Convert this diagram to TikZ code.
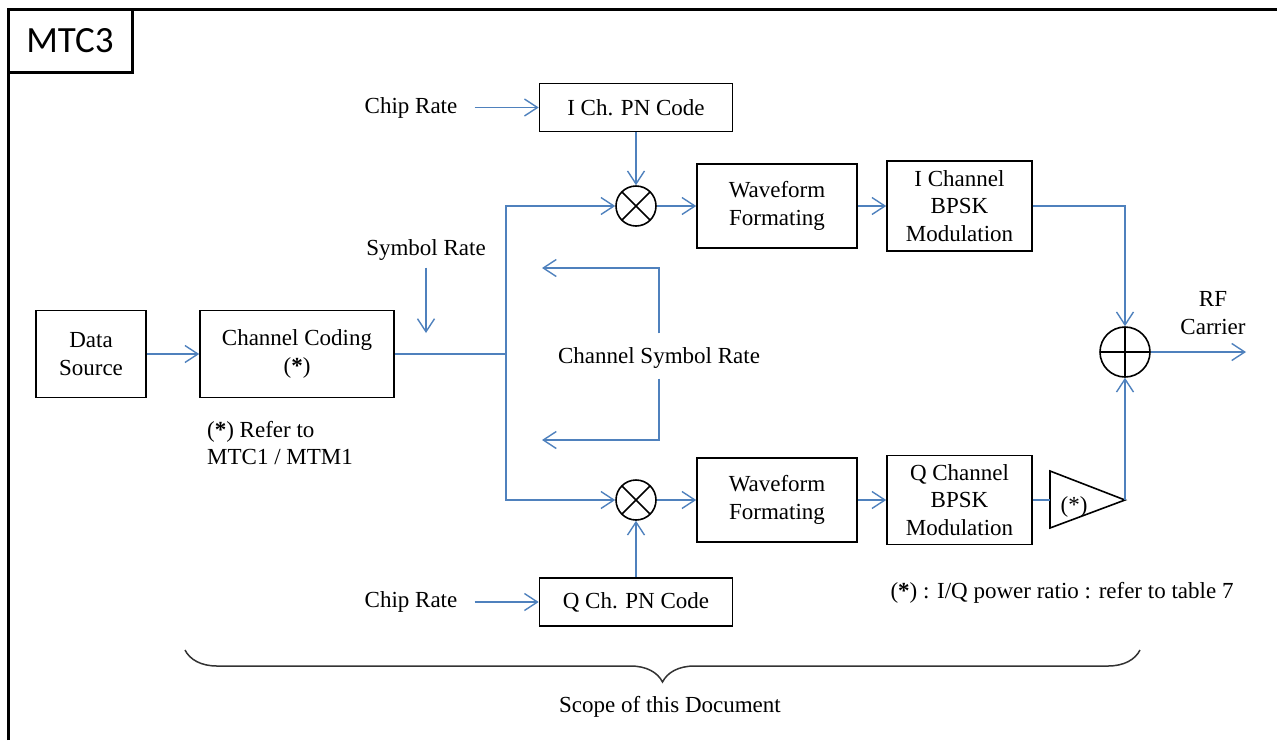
\documentclass[tikz,border=0pt]{standalone}
\usepackage{fontspec}
\setmainfont{Liberation Serif}
\newfontfamily\tagfont{Carlito}
\usetikzlibrary{arrows.meta}
\usetikzlibrary{decorations.pathreplacing}
\definecolor{sigblue}{RGB}{79,129,189}

\begin{document}
\begin{tikzpicture}[x=1pt, y=-1pt, every node/.style = {font=\fontsize{23}{27.5}\selectfont, inner sep=2pt},
					>={Straight Barb[length=13pt,width=17pt]}]

\tikzstyle{block}=[draw, line width=1.6pt, align=center, inner sep=0pt]
\tikzstyle{sig}=[draw=sigblue, line width=1.4pt]
\tikzstyle{mult}=[circle, draw, line width=1.6pt, minimum size=40pt, inner sep=0pt,
	path picture={\draw[line width=1.6pt] (path picture bounding box.north west) -- (path picture bounding box.south east)
		(path picture bounding box.north east) -- (path picture bounding box.south west);}]
\tikzstyle{adder}=[circle, draw, line width=1.6pt, minimum size=50pt, inner sep=0pt,
	path picture={\draw[line width=1.6pt] (path picture bounding box.north) -- (path picture bounding box.south)
		(path picture bounding box.west) -- (path picture bounding box.east);}]

\useasboundingbox (0,0) rectangle (1277,740);
\draw[line width=3pt] (8,740) -- (8,9) -- (1277,9);
\node[draw, line width=3pt, minimum width=124pt, minimum height=63pt, font=\fontsize{37}{40}\selectfont\tagfont] (tag) at (70,40.5) {MTC3};

\node[block, minimum width=110pt, minimum height=87pt] (src) at (91,354) {Data\\Source};
\node[block, minimum width=194pt, minimum height=87pt] (cc) at (297,354) {Channel Coding\\(\textbf{*})};
\node[anchor=west, align=left] (ccnote) at (205,443) {(\textbf{*}) Refer to\\MTC1 / MTM1};
\node (symrate) at (426,250) {Symbol Rate};
\coordinate (symtip) at (426,333);
\coordinate (split) at (506,354);

\node[block, minimum width=193pt, minimum height=48pt] (pnI) at (636,107.5) {I Ch. PN Code};
\node[block, minimum width=193pt, minimum height=48pt] (pnQ) at (636,602) {Q Ch. PN Code};
\node (chipI) at (411,107.5) {Chip Rate};
\node (chipQ) at (411,602) {Chip Rate};
\node[mult] (mulI) at (636,206) {};
\node[mult] (mulQ) at (636,500) {};

\node[block, minimum width=160pt, minimum height=84pt] (wfI) at (777,206) {Waveform\\Formating};
\node[block, minimum width=160pt, minimum height=84pt] (wfQ) at (777,500) {Waveform\\Formating};
\node[block, minimum width=145pt, minimum height=90pt] (modI) at (959.5,206) {I Channel\\BPSK\\Modulation};
\node[block, minimum width=145pt, minimum height=89pt] (modQ) at (959.5,500) {Q Channel\\BPSK\\Modulation};

\node (csr) at (659,358) {Channel Symbol Rate};
\coordinate (csrI) at (542,268);
\coordinate (csrQ) at (542,440);

\draw[line width=1.6pt] (1050,471) -- (1125,500) -- (1050,528) -- cycle;
\coordinate (ampin) at (1050,500);
\coordinate (ampout) at (1125,500);
\node (ampnote) at (1074,507) {(*)};
\node[adder] (sum) at (1125,352) {};
\coordinate (rfout) at (1246,352);
\node[align=center] (rf) at (1213,313) {RF\\Carrier};
\node (pwr) at (1062,593) {(\textbf{*}) : I/Q power ratio : refer to table 7};

\draw[sig,->] (src) -- (cc);
\draw[sig] (cc) -- (split);
\draw[sig,->,shorten <=5pt] (symrate) -- (symtip);
\draw[sig,->] (split) |- (mulI);
\draw[sig,->] (split) |- (mulQ);
\draw[sig,->,shorten <=15pt] (chipI) -- (pnI);
\draw[sig,->,shorten <=15pt] (chipQ) -- (pnQ);
\draw[sig,->] (pnI) -- (mulI);
\draw[sig,->] (pnQ) -- (mulQ);
\draw[sig,->] (mulI) -- (wfI);
\draw[sig,->] (mulQ) -- (wfQ);
\draw[sig,->] (wfI) -- (modI);
\draw[sig,->] (wfQ) -- (modQ);
\draw[sig,->,shorten <=12pt] (csr.north) |- (csrI);
\draw[sig,->,shorten <=8pt] (csr.south) |- (csrQ);
\draw[sig] (modQ) -- (ampin);
\draw[sig,->] (ampout) -- (sum);
\draw[sig,->] (modI) -| (sum);
\draw[sig,->] (sum) -- (rfout);

\draw[decorate, decoration={brace, mirror, amplitude=32pt}, line width=1.5pt, draw=black!80] (185,650) -- (1140,650);
\node (scope) at (670,707) {Scope of this Document};
\end{tikzpicture}
\end{document}
